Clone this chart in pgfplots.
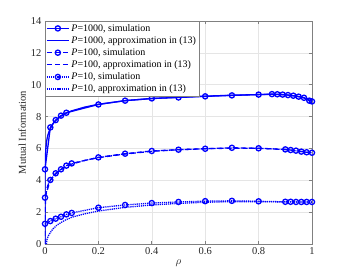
\documentclass[border=0pt]{standalone}
\usepackage{pgfplots}
\pgfplotsset{compat=1.18}
\usepackage{fontspec}
\setmainfont{Liberation Serif}
\definecolor{mblue}{rgb}{0,0,1}
\definecolor{axgray}{rgb}{0.5,0.5,0.5}
\definecolor{txtgray}{rgb}{0.15,0.15,0.15}
\definecolor{gridc}{rgb}{0.9,0.9,0.9}
\begin{document}
\fontsize{10pt}{12pt}\selectfont
\begin{tikzpicture}[
  mdash/.style={dash pattern=on 5pt off 3pt},
  mdot/.style={dash pattern=on 1.2pt off 0.9pt},
]
\begin{axis}[
  scale only axis,
  width=267pt, height=223pt,
  xmin=0, xmax=1, ymin=0, ymax=14,
  xtick={0,0.2,0.4,0.6,0.8,1},
  ytick={0,2,4,6,8,10,12,14},
  xticklabels={0,0.2,0.4,0.6,0.8,1},
  grid=major,
  major grid style={gridc, line width=0.5pt},
  axis line style={axgray, line width=0.7pt},
  tick style={axgray, line width=0.6pt},
  tick align=inside,
  major tick length=3pt,
  ticklabel style={font=\fontsize{10.5pt}{12pt}\selectfont, text=txtgray},
  /pgf/number format/assume math mode=true,
  xlabel={$\rho$},
  ylabel={Mutual Information},
  label style={text=txtgray, font=\fontsize{10.5pt}{12pt}\selectfont},
  xlabel style={yshift=2pt},
  ylabel style={yshift=-2pt},
  legend style={at={(0,1)}, anchor=north west, draw=axgray, fill=white,
    font=\fontsize{10pt}{12pt}\selectfont,
    inner sep=1pt, row sep=-0.3pt, cells={anchor=west}},
  legend image code/.code={\draw[mark repeat=2,mark phase=2,#1] plot coordinates {(0pt,0pt) (11pt,0pt) (22pt,0pt)};},
  mark size=2.6pt,
]
\addplot[mblue, line width=1.3pt, mark=o, solid, mark options={solid}] coordinates {
(0,4.69)(0.02,7.32)(0.04,7.78)(0.06,8.06)(0.08,8.24)(0.2,8.76)(0.3,9.0)(0.4,9.14)(0.5,9.2)(0.6,9.27)(0.7,9.33)(0.8,9.38)(0.85,9.41)(0.87,9.40)(0.89,9.38)(0.91,9.35)(0.93,9.31)(0.95,9.25)(0.97,9.18)(0.99,9.0)(1.0,8.95)};
\addlegendentry{\textit{P}=1000, simulation}
\addplot[mblue, line width=1.3pt, solid] coordinates {
(0,0)(0.0002,4.2)(0.001,5.2)(0.003,5.95)(0.006,6.45)(0.01,6.8)(0.015,7.05)(0.02,7.25)(0.03,7.55)(0.04,7.75)(0.06,8.03)(0.08,8.22)(0.1,8.36)(0.15,8.6)(0.2,8.77)(0.3,9.0)(0.4,9.13)(0.5,9.21)(0.6,9.28)(0.7,9.34)(0.8,9.38)(0.85,9.40)(0.9,9.37)(0.95,9.26)(0.97,9.18)(1.0,8.96)};
\addlegendentry{\textit{P}=1000, approximation in (13)}
\addplot[mblue, line width=1.3pt, mark=o, mdash, mark options={solid}] coordinates {
(0,2.91)(0.02,4.02)(0.04,4.44)(0.06,4.69)(0.08,4.92)(0.1,5.06)(0.2,5.44)(0.3,5.67)(0.4,5.84)(0.5,5.92)(0.6,5.98)(0.7,6.04)(0.8,6.01)(0.9,5.94)(0.92,5.90)(0.94,5.86)(0.96,5.80)(0.98,5.76)(1.0,5.73)};
\addlegendentry{\textit{P}=100, simulation}
\addplot[mblue, line width=1.3pt, mdash] coordinates {
(0,0)(0.0003,1.5)(0.001,2.35)(0.003,3.0)(0.006,3.4)(0.01,3.65)(0.015,3.85)(0.02,4.0)(0.03,4.22)(0.04,4.4)(0.06,4.66)(0.08,4.87)(0.1,5.02)(0.15,5.25)(0.2,5.42)(0.3,5.65)(0.4,5.82)(0.5,5.92)(0.6,5.98)(0.7,6.02)(0.8,6.01)(0.9,5.93)(0.95,5.83)(1.0,5.72)};
\addlegendentry{\textit{P}=100, approximation in (13)}
\addplot[mblue, line width=1.3pt, mark=o, mdot, mark options={solid}] coordinates {
(0,1.27)(0.02,1.44)(0.04,1.59)(0.06,1.71)(0.08,1.86)(0.1,1.95)(0.2,2.28)(0.3,2.45)(0.4,2.57)(0.5,2.64)(0.6,2.69)(0.7,2.71)(0.8,2.68)(0.9,2.65)(0.92,2.65)(0.94,2.64)(0.96,2.64)(0.98,2.64)(1.0,2.64)};
\addlegendentry{\textit{P}=10, simulation}
\addplot[mblue, line width=1.3pt, mdot] coordinates {
(0.005,0.0)(0.008,0.3)(0.012,0.5)(0.02,0.72)(0.03,0.95)(0.045,1.19)(0.06,1.35)(0.076,1.5)(0.1,1.68)(0.15,1.9)(0.2,2.07)(0.3,2.3)(0.4,2.45)(0.5,2.55)(0.6,2.62)(0.7,2.66)(0.8,2.66)(0.9,2.64)(1.0,2.63)};
\addlegendentry{\textit{P}=10, approximation in (13)}
\end{axis}
\path (current axis.south west) ++(-45pt,-30pt) coordinate (bbA);
\path (current axis.north east) ++(34pt,21pt) coordinate (bbB);
\path (bbA) rectangle (bbB);
\end{tikzpicture}
\end{document}
